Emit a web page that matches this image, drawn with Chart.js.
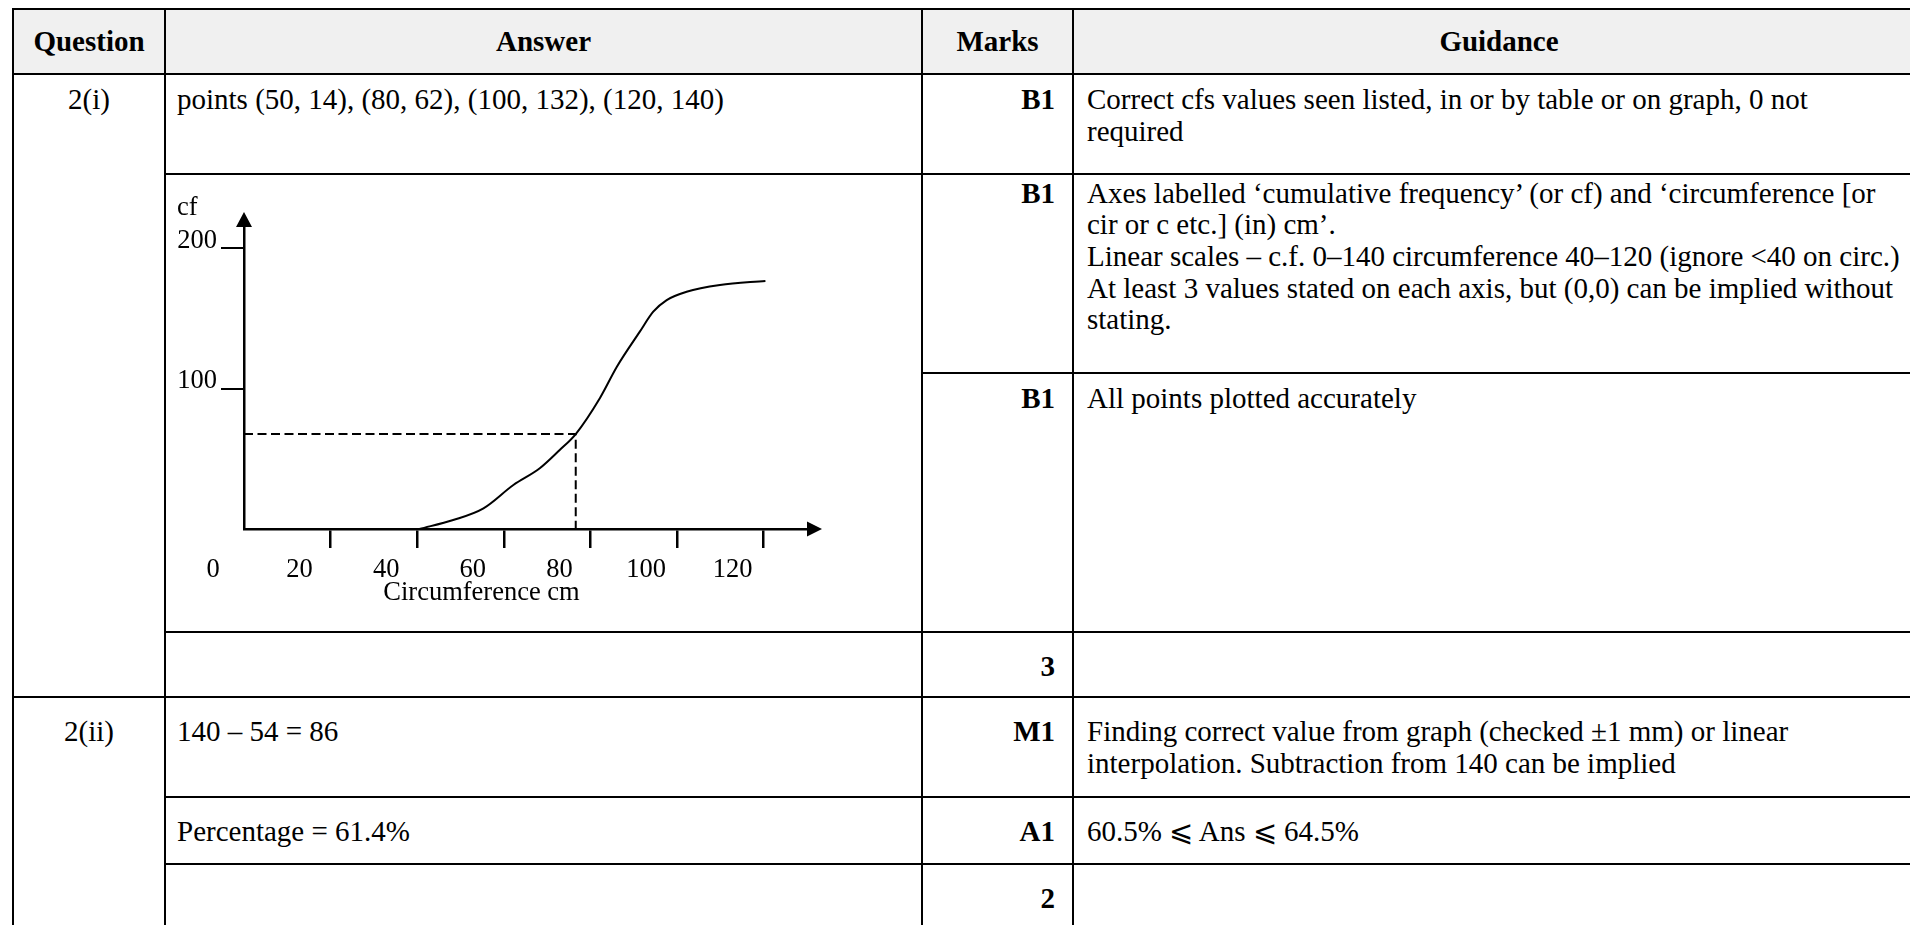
<!DOCTYPE html>
<html>
<head>
<meta charset="utf-8">
<title>Question 2 mark scheme</title>
<script src="https://cdn.jsdelivr.net/npm/chart.js@4.4.1/dist/chart.umd.min.js"></script>
<style>
  html, body { margin: 0; padding: 0; background: #fff; }
  body { position: relative; width: 1910px; height: 925px; overflow: hidden;
         font-family: "Liberation Serif", "Times New Roman", serif; color: #000; }
  table.scheme { position: absolute; left: 12px; top: 8px; width: 1912px;
                 border-collapse: separate; border-spacing: 0; table-layout: fixed;
                 border-left: 2px solid #000; border-top: 2px solid #000; }
  .scheme th, .scheme td { box-sizing: border-box; padding: 0; border-right: 2px solid #000;
                           border-bottom: 2px solid #000; font-size: 29px; line-height: 31.7px;
                           white-space: nowrap; vertical-align: top; }
  .scheme th { background: #f0f0f0; font-weight: bold; text-align: center; vertical-align: middle; }
  .scheme td.q { text-align: center; padding-top: 9px; }
  .scheme td.ans { padding: 9px 0 0 11px; }
  .scheme td.mk { text-align: right; font-weight: bold; padding: 9px 17px 0 0; }
  .scheme td.gd { padding: 9px 0 0 13px; }
  .scheme td.tight { padding-top: 2.5px; }
  .scheme td.mid { padding-top: 8.5px; }
  .scheme td.low { padding-top: 18px; }
  #chartBox { position: absolute; left: 166px; top: 176px; width: 690px; height: 454px; }
</style>
</head>
<body>
<table class="scheme">
  <colgroup>
    <col style="width:152px">
    <col style="width:757px">
    <col style="width:151px">
    <col style="width:852px">
  </colgroup>
  <tr style="height:65px">
    <th>Question</th><th>Answer</th><th>Marks</th><th>Guidance</th>
  </tr>
  <tr style="height:100px">
    <td class="q" rowspan="4">2(i)</td>
    <td class="ans">points (50, 14), (80, 62), (100, 132), (120, 140)</td>
    <td class="mk">B1</td>
    <td class="gd">Correct cfs values seen listed, in or by table or on graph, 0 not<br>required</td>
  </tr>
  <tr style="height:199px">
    <td class="ans" rowspan="2"></td>
    <td class="mk tight">B1</td>
    <td class="gd tight">Axes labelled ‘cumulative frequency’ (or cf) and ‘circumference [or<br>cir or c etc.] (in) cm’.<br>Linear scales – c.f. 0–140 circumference 40–120 (ignore &lt;40 on circ.)<br>At least 3 values stated on each axis, but (0,0) can be implied without<br>stating.</td>
  </tr>
  <tr style="height:259px">
    <td class="mk mid">B1</td>
    <td class="gd mid">All points plotted accurately</td>
  </tr>
  <tr style="height:65px">
    <td class="ans low"></td>
    <td class="mk low">3</td>
    <td class="gd low"></td>
  </tr>
  <tr style="height:100px">
    <td class="q low" rowspan="3">2(ii)</td>
    <td class="ans low">140 – 54 = 86</td>
    <td class="mk low">M1</td>
    <td class="gd low">Finding correct value from graph (checked ±1 mm) or linear<br>interpolation. Subtraction from 140 can be implied</td>
  </tr>
  <tr style="height:67px">
    <td class="ans low">Percentage = 61.4%</td>
    <td class="mk low">A1</td>
    <td class="gd low">60.5% ⩽ Ans ⩽ 64.5%</td>
  </tr>
  <tr style="height:80px">
    <td class="ans low"></td>
    <td class="mk low">2</td>
    <td class="gd low"></td>
  </tr>
</table>

<div id="chartBox"><canvas id="cfChart" width="690" height="454"></canvas></div>

<script>
// sketch curve (circumference cm -> cumulative frequency)
const circumference = [40.5, 48.3, 55.3, 62.2, 68.3, 72.9, 76.6, 82.2, 86.1, 91.4, 94.5, 97.6, 102.2, 109.9, 120.4];
const cumFreq = [0, 6.4, 14.7, 31.3, 43.2, 56.2, 67.6, 93.3, 115.5, 140.5, 154.7, 163.0, 168.9, 173.7, 176.6];

// dashed read-off line
const readCirc = 76.6;
const readCf = 67.6;

const xTicks = [0, 20, 40, 60, 80, 100, 120];
const yTicks = [100, 200];
const xMax = 130;
const yMax = 215;
const xTitle = 'Circumference cm';
const yTitle = 'cf';

Chart.defaults.font.family = '"Liberation Serif", "Times New Roman", serif';
Chart.defaults.color = '#000';

var curve = circumference.map((c, i) => ({ x: c, y: cumFreq[i] }));
var readLine = [{ x: 0, y: readCf }, { x: readCirc, y: readCf }, { x: readCirc, y: 0 }];

// arrowheads on the axes plus the two axis captions
var axisExtras = {
    id: 'axisExtras',
    afterDraw(chart) {
        var c = chart.ctx;
        var a = chart.chartArea;
        var xs = chart.scales.x;
        var ys = chart.scales.y;
        c.save();
        c.fillStyle = '#000';
        c.beginPath();
        c.moveTo(a.left, a.top - 15);
        c.lineTo(a.left - 8, a.top);
        c.lineTo(a.left + 8, a.top);
        c.closePath();
        c.fill();
        c.beginPath();
        c.moveTo(a.right + 15, a.bottom);
        c.lineTo(a.right, a.bottom - 7.5);
        c.lineTo(a.right, a.bottom + 7.5);
        c.closePath();
        c.fill();
        c.font = '26.5px "Liberation Serif"';
        c.textBaseline = 'middle';
        c.textAlign = 'left';
        c.fillText(yTitle, ys.left, a.top - 19);
        c.textAlign = 'center';
        c.fillText(xTitle, (xs.left + xs.right) / 2 - 44, a.bottom + 64);
        c.restore();
    }
};

var ctx = document.getElementById('cfChart').getContext('2d');
window.chart = new Chart(ctx, {
    type: 'line',
    data: {
        datasets: [{
            data: curve,
            borderColor: '#000',
            borderWidth: 2,
            pointRadius: 0,
            cubicInterpolationMode: 'monotone',
            fill: false
        }, {
            data: readLine,
            borderColor: '#000',
            borderWidth: 2,
            borderDash: [9, 4.5],
            pointRadius: 0,
            tension: 0,
            fill: false
        }]
    },
    options: {
        responsive: false,
        animation: false,
        devicePixelRatio: 1,
        layout: { padding: { left: 11, right: 49, top: 51, bottom: 21 } },
        plugins: {
            legend: { display: false },
            tooltip: { enabled: false }
        },
        scales: {
            x: {
                type: 'linear',
                min: 0,
                max: xMax,
                afterBuildTicks: s => { s.ticks = xTicks.map(v => ({ value: v })); },
                afterFit: s => { s.height = 80; },
                grid: {
                    drawOnChartArea: false,
                    tickLength: 19,
                    lineWidth: 2.5,
                    color: c => (c.tick && c.tick.value === 0) ? 'rgba(0,0,0,0)' : '#000'
                },
                border: { display: true, color: '#000', width: 2.5 },
                ticks: { color: '#000', font: { size: 26.5 }, padding: 6, labelOffset: -31, maxRotation: 0, autoSkip: false }
            },
            y: {
                min: 0,
                max: yMax,
                afterBuildTicks: s => { s.ticks = yTicks.map(v => ({ value: v })); },
                afterFit: s => { s.width = 67; },
                grid: { drawOnChartArea: false, tickLength: 23, lineWidth: 2, color: '#000' },
                border: { display: true, color: '#000', width: 2.5 },
                ticks: { color: '#000', font: { size: 26.5 }, padding: 4, labelOffset: -7, autoSkip: false }
            }
        }
    },
    plugins: [axisExtras]
});
</script>
</body>
</html>
